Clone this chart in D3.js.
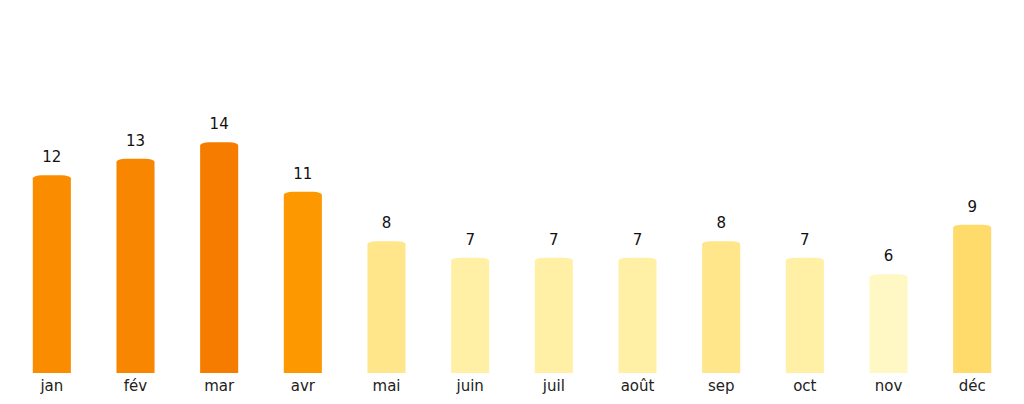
<!DOCTYPE html>
<html>
<head>
<meta charset="utf-8">
<title>Mois</title>
<style>
    body { margin: 0; background: #fff; }
    text { font-family: "DejaVu Sans", sans-serif; }
</style>
<script src="https://d3js.org/d3.v7.min.js"></script>
</head>
<body>
<script>
// data
var months = ["jan", "fév", "mar", "avr", "mai", "juin", "juil", "août", "sep", "oct", "nov", "déc"];
var values = [12, 13, 14, 11, 8, 7, 7, 7, 8, 7, 6, 9];

var width = 1024, height = 404;
var baseY = 373, topY = 27;

var svg = d3.select("body").append("svg")
    .attr("width", width)
    .attr("height", height);

var x = d3.scaleBand()
    .domain(months)
    .range([10, 1014])
    .paddingInner(0.545)
    .paddingOuter(0.2725);

var y = d3.scaleLinear()
    .domain([0, 21])
    .range([baseY, topY]);

// colour follows the value
var color = d3.scaleLinear()
    .domain([6, 7, 8, 9, 11, 12, 13, 14])
    .range(["#fff8c4", "#fff0a6", "#ffe68a", "#ffdb6b", "#fd9800", "#fa8c00", "#f98600", "#f67c00"]);

var rx = 9, ry = 3;
function barPath(d, i) {
    var x0 = x(months[i]), w = x.bandwidth();
    var yt = y(d), yb = y(0);
    return "M" + x0 + "," + yb +
        "V" + (yt + ry) +
        "A" + rx + "," + ry + " 0 0 1 " + (x0 + rx) + "," + yt +
        "H" + (x0 + w - rx) +
        "A" + rx + "," + ry + " 0 0 1 " + (x0 + w) + "," + (yt + ry) +
        "V" + yb + "Z";
}

svg.append("g").selectAll("path")
    .data(values)
    .enter()
    .append("path")
    .attr("d", barPath)
    .attr("fill", function(d) { return color(d); });

svg.append("g").selectAll("text")
    .data(values)
    .enter()
    .append("text")
    .attr("x", function(d, i) { return x(months[i]) + x.bandwidth() / 2; })
    .attr("y", function(d) { return y(d) - 13; })
    .attr("text-anchor", "middle")
    .style("font-size", "15px")
    .style("fill", "#111")
    .text(function(d) { return d; });

var xAxis = d3.axisBottom(x).tickSize(0).tickPadding(7);
var gx = svg.append("g")
    .attr("transform", "translate(0," + baseY + ")")
    .call(xAxis);
gx.select(".domain").remove();
gx.selectAll("text")
    .style("font-size", "15px")
    .style("font-family", "DejaVu Sans, sans-serif")
    .style("fill", "#222");
</script>
</body>
</html>
